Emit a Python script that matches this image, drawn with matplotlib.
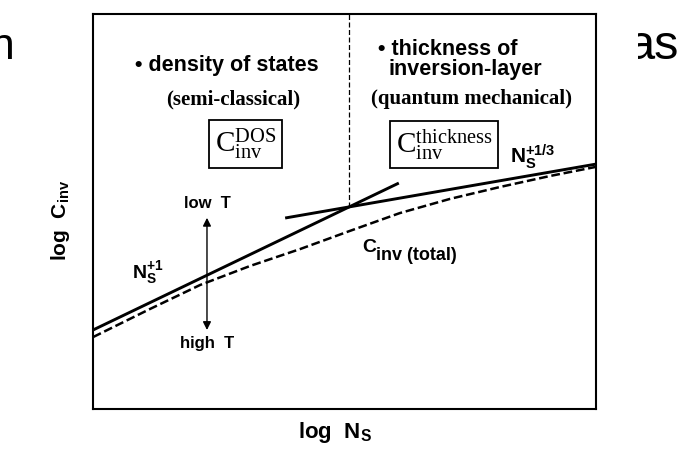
import matplotlib
matplotlib.use("Agg")
import matplotlib.pyplot as plt
import numpy as np
from matplotlib.patches import Rectangle

plt.rcParams["font.family"] = ["Liberation Sans", "DejaVu Sans"]
plt.rcParams["mathtext.fontset"] = "custom"
plt.rcParams["mathtext.rm"] = "Liberation Serif"
plt.rcParams["mathtext.it"] = "Liberation Serif:italic"
plt.rcParams["mathtext.bf"] = "Liberation Sans:bold"
plt.rcParams["mathtext.sf"] = "Liberation Sans"

# log N_S / log C_inv, both normalised to the frame (0..1)
dos_ns = [0.0, 0.608]          # C_inv^DOS  ~ N_S^+1
dos_c = [0.200, 0.572]
thick_ns = [0.382, 1.0]        # C_inv^thickness ~ N_S^+1/3
thick_c = [0.4835, 0.620]
total_ns = [0.0, 0.113, 0.213, 0.312, 0.412, 0.511, 0.610, 0.710, 0.809, 0.909, 1.0]
total_c = [0.182, 0.253, 0.314, 0.362, 0.405, 0.451, 0.496, 0.532, 0.562, 0.590, 0.613]

# low T / high T arrow
arrow_ns = 0.2266
arrow_c = [0.484, 0.200]

W, H = 680, 457
fig = plt.figure(figsize=(W / 100, H / 100), dpi=100)

def px(x, y):
    return x / W, 1 - y / H

# bits of the slide text that sit behind the pasted figure
fig.text(*px(15, 59), "n", ha="right", va="baseline", fontsize=32, zorder=-2)
fig.text(*px(679, 59), "as", ha="right", va="baseline", fontsize=35, zorder=-2)
fig.add_artist(Rectangle(px(17, H), (638 - 17) / W, 1, transform=fig.transFigure,
                         fc="white", ec="none", zorder=-1))

ax = fig.add_axes([93 / W, 1 - 409 / H, 503 / W, 395 / H])
ax.set_xlim(0, 1)
ax.set_ylim(0, 1)
ax.set_xticks([])
ax.set_yticks([])
for s in ax.spines.values():
    s.set_linewidth(1.5)

ax.plot(dos_ns, dos_c, color="black", lw=2.1, solid_capstyle="butt")
ax.plot(thick_ns, thick_c, color="black", lw=2.1, solid_capstyle="butt")
ax.plot(total_ns, total_c, color="black", lw=1.8, dashes=(3.5, 1.5))

# crossing point of the two asymptotes -> divider
m1, b1 = np.polyfit(dos_ns, dos_c, 1)
m2, b2 = np.polyfit(thick_ns, thick_c, 1)
xc = (b2 - b1) / (m1 - m2)
yc = m1 * xc + b1
ax.plot([xc, xc], [yc, 1], color="black", lw=0.9, dashes=(4, 2))

ax.annotate("", xy=(arrow_ns, arrow_c[0]), xytext=(arrow_ns, arrow_c[1]),
            arrowprops=dict(arrowstyle="<|-|>", lw=1.0, color="black",
                            mutation_scale=12, shrinkA=0, shrinkB=0))
ax.text(arrow_ns, 0.519, "low  T", ha="center", va="center", fontsize=12, fontweight="bold")
ax.text(arrow_ns, 0.165, "high  T", ha="center", va="center", fontsize=12, fontweight="bold")

ax.text(0.266, 0.856, "\u2022 density of states", ha="center", va="baseline",
        fontsize=15.5, fontweight="bold")
ax.text(0.279, 0.772, "(semi-classical)", ha="center", va="baseline",
        fontsize=15, fontweight="bold", family="Liberation Serif")
ax.text(0.567, 0.896, "\u2022 thickness of", ha="left", va="baseline",
        fontsize=15.5, fontweight="bold")
ax.text(0.588, 0.846, "inversion-layer", ha="left", va="baseline",
        fontsize=15.5, fontweight="bold")
ax.text(0.553, 0.772, "(quantum mechanical)", ha="left", va="baseline",
        fontsize=15, fontweight="bold", family="Liberation Serif")

box = dict(boxstyle="square,pad=0.2", fc="white", ec="black", lw=1.3)
ax.text(0.303, 0.671, r"$\mathrm{C}^{\mathrm{DOS}}_{\mathrm{inv}}$", ha="center", va="center",
        fontsize=21, bbox=box)
ax.text(0.698, 0.670, r"$\mathrm{C}^{\mathrm{thickness}}_{\mathrm{inv}}$", ha="center", va="center",
        fontsize=21, bbox=box)

ax.text(0.829, 0.623, r"$\mathbf{N_S^{+1/3}}$", ha="left", va="baseline", fontsize=15)
ax.text(0.0775, 0.332, r"$\mathbf{N_S^{+1}}$", ha="left", va="baseline", fontsize=14)
ax.text(0.535, 0.397, "C", ha="left", va="baseline", fontsize=14, fontweight="bold")
ax.text(0.562, 0.378, "inv (total)", ha="left", va="baseline", fontsize=13, fontweight="bold")

ax.set_xlabel(r"log  $\mathbf{N_S}$", fontsize=16, fontweight="bold")
ax.xaxis.set_label_coords(0.481, -0.028)
ax.set_ylabel(r"log  $\mathbf{C_{inv}}$", fontsize=15, fontweight="bold")
ax.yaxis.set_label_coords(-0.042, 0.478)

fig.savefig("out.png", dpi=100)
